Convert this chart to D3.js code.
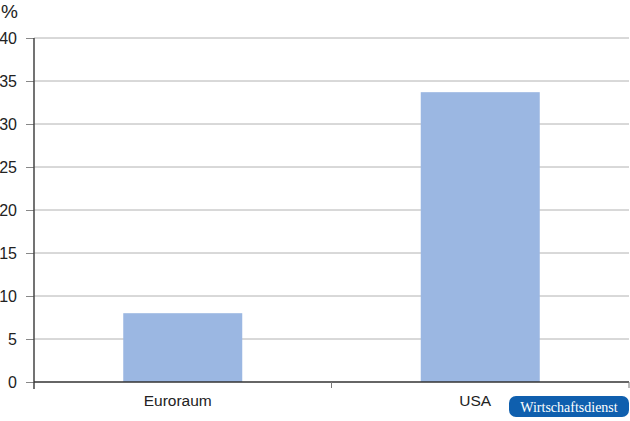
<!DOCTYPE html>
<html>
<head>
  <meta charset="utf-8">
  <title>Euroraum / USA</title>
  <style>
    body { margin: 0; background: #fff; }
    svg { font-family: "Liberation Sans", Arial, sans-serif; }
  </style>
</head>
<body>
  <svg width="630" height="421"></svg>
  <script src="https://cdnjs.cloudflare.com/ajax/libs/d3/7.8.5/d3.min.js"></script>
  <script>
    const categories = ["Euroraum", "USA"];
    const values = [8.0, 33.7];
    const yTicks = [0, 5, 10, 15, 20, 25, 30, 35, 40];

    const svg = d3.select("svg");
    const margin = {left: 34, right: 1, top: 38, bottom: 39};
    const width = 630 - margin.left - margin.right;
    const height = 421 - margin.top - margin.bottom;

    const x = d3.scaleBand()
                .domain(categories)
                .range([margin.left, margin.left + width])
                .paddingInner(0.6)
                .paddingOuter(0.3);
    const y = d3.scaleLinear()
                .domain([0, 40])
                .range([margin.top + height, margin.top]);

    // gridlines
    svg.append("g")
       .selectAll("line")
       .data(yTicks.filter(d => d > 0))
       .enter().append("line")
       .attr("x1", margin.left)
       .attr("x2", margin.left + width)
       .attr("y1", d => y(d))
       .attr("y2", d => y(d))
       .attr("stroke", "#b2b2b2")
       .attr("stroke-width", 1);

    // bars
    svg.append("g")
       .selectAll("rect")
       .data(categories)
       .enter().append("rect")
       .attr("x", d => x(d))
       .attr("width", x.bandwidth())
       .attr("y", (d, i) => y(values[i]))
       .attr("height", (d, i) => y(0) - y(values[i]))
       .attr("fill", "#9bb7e2");

    // y axis
    const yAxis = svg.append("g")
       .attr("transform", "translate(" + margin.left + ",0)")
       .call(d3.axisLeft(y).tickValues(yTicks).tickSize(8).tickPadding(9).tickSizeOuter(0));
    yAxis.select(".domain").remove();
    yAxis.append("line")
         .attr("y1", y(40)).attr("y2", y(0) + 7)
         .attr("stroke", "#444").attr("stroke-width", 1.5);
    yAxis.selectAll(".tick line").attr("stroke", "#888");
    yAxis.selectAll("text")
         .attr("font-size", 16)
         .attr("fill", "#222")
         .attr("font-family", "'Liberation Sans', Arial, sans-serif");

    // x axis with boundary ticks
    const xb = d3.scaleLinear()
                 .domain([0, categories.length])
                 .range([margin.left, margin.left + width]);
    const bottom = svg.append("g")
       .attr("transform", "translate(0," + y(0) + ")");
    bottom.append("line")
          .attr("x1", margin.left).attr("x2", margin.left + width)
          .attr("stroke", "#333").attr("stroke-width", 1.5);
    bottom.selectAll(".bt")
          .data(d3.range(1, categories.length + 1))
          .enter().append("line")
          .attr("x1", d => xb(d)).attr("x2", d => xb(d))
          .attr("y1", 0).attr("y2", 6)
          .attr("stroke", "#777");
    bottom.selectAll(".lbl")
          .data(categories)
          .enter().append("text")
          .attr("x", d => x(d) + x.bandwidth() / 2)
          .attr("dx", -5)
          .attr("y", 24)
          .attr("text-anchor", "middle")
          .attr("font-size", 15.5)
          .attr("fill", "#222")
          .text(d => d);

    // unit label
    svg.append("text")
       .attr("x", 1).attr("y", 18)
       .attr("font-size", 19)
       .attr("fill", "#222")
       .text("%");

    // logo
    const logo = svg.append("g").attr("transform", "translate(509,396)");
    logo.append("rect")
        .attr("width", 120).attr("height", 21)
        .attr("rx", 7)
        .attr("fill", "#0f5fae");
    logo.append("text")
        .attr("x", 60).attr("y", 15.5)
        .attr("text-anchor", "middle")
        .attr("font-family", "'Liberation Serif', 'DejaVu Serif', serif")
        .attr("font-size", 14)
        .attr("fill", "#fff")
        .text("Wirtschaftsdienst");
  </script>
</body>
</html>
